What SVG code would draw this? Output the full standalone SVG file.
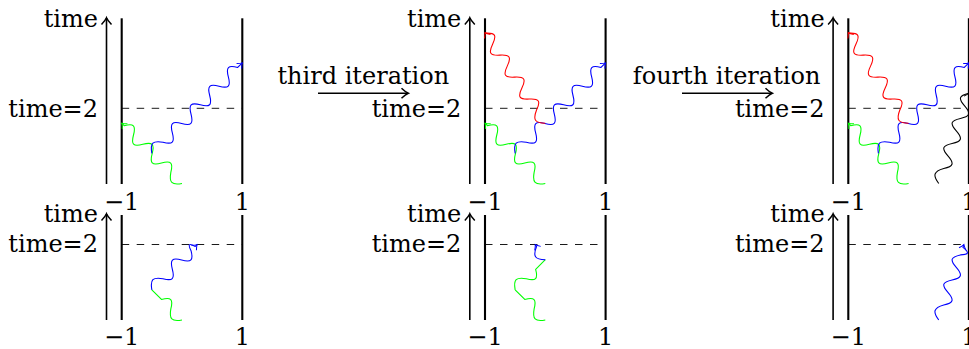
<svg xmlns="http://www.w3.org/2000/svg" width="969" height="349" viewBox="0 0 969 349">
<style>
text{font-family:"DejaVu Serif","Liberation Serif",serif;font-size:24px;fill:#000}
.e{text-anchor:end}.m{text-anchor:middle}
.wall{stroke:#000;stroke-width:2.1;fill:none}
.ax{stroke:#000;stroke-width:1.6;fill:none;marker-end:url(#ah)}
.dash{stroke:#000;stroke-width:0.9;stroke-dasharray:7.5 7.5;fill:none}
.sn{fill:none;stroke-width:1.1}
.g{stroke:#00ff00}.b{stroke:#0000ff}.r{stroke:#ff0000}.k{stroke:#000}
</style>
<defs>
<marker id="ah" markerUnits="userSpaceOnUse" orient="auto" markerWidth="14" markerHeight="14" viewBox="-10 -7 12 14" refX="0" refY="0"><path d="M-6.5,-5 Q-2.5,-1.2 0.3,0 Q-2.5,1.2 -6.5,5" fill="none" stroke="#000" stroke-width="1.5"/></marker>
<marker id="ag" markerUnits="userSpaceOnUse" orient="auto" markerWidth="10" markerHeight="10" viewBox="-6 -5 8 10" refX="0" refY="0"><path d="M-4.5,-3.6 Q-1.7,-0.9 0,0 Q-1.7,0.9 -4.5,3.6" fill="none" stroke="#00ff00" stroke-width="1"/></marker>
<marker id="ab" markerUnits="userSpaceOnUse" orient="auto" markerWidth="10" markerHeight="10" viewBox="-6 -5 8 10" refX="0" refY="0"><path d="M-4.5,-3.6 Q-1.7,-0.9 0,0 Q-1.7,0.9 -4.5,3.6" fill="none" stroke="#0000ff" stroke-width="1"/></marker>
<marker id="ar" markerUnits="userSpaceOnUse" orient="auto" markerWidth="10" markerHeight="10" viewBox="-6 -5 8 10" refX="0" refY="0"><path d="M-4.5,-3.6 Q-1.7,-0.9 0,0 Q-1.7,0.9 -4.5,3.6" fill="none" stroke="#ff0000" stroke-width="1"/></marker>
<marker id="ak" markerUnits="userSpaceOnUse" orient="auto" markerWidth="10" markerHeight="10" viewBox="-6 -5 8 10" refX="0" refY="0"><path d="M-4.5,-3.6 Q-1.7,-0.9 0,0 Q-1.7,0.9 -4.5,3.6" fill="none" stroke="#000" stroke-width="1"/></marker>
<path id="pG" d="M0 0c6 -8.6 9.8 -8.6 15.8 0c5 8.6 8.2 8.6 13.2 0c5 -8.6 8.2 -8.6 13.2 0c5 8.6 8.2 8.6 13.2 0c5 -8.6 8.2 -8.6 13.2 0c5 8.6 8.2 8.6 13.2 0L85.28 0"/>
<path id="pB" d="M0 0c6 -8.6 9.8 -8.6 15.8 0c5 8.6 8.2 8.6 13.2 0c5 -8.6 8.2 -8.6 13.2 0c5 8.6 8.2 8.6 13.2 0c5 -8.6 8.2 -8.6 13.2 0c5 8.6 8.2 8.6 13.2 0c5 -8.6 8.2 -8.6 13.2 0c5 8.6 8.2 8.6 13.2 0c5 -8.6 8.2 -8.6 13.2 0L127.92 0"/>
<path id="pR" d="M0 0c6 -8.6 9.8 -8.6 15.8 0c5 8.6 8.2 8.6 13.2 0c5 -8.6 8.2 -8.6 13.2 0c5 8.6 8.2 8.6 13.2 0c5 -8.6 8.2 -8.6 13.2 0c5 8.6 8.2 8.6 13.2 0c5 -8.6 8.2 -8.6 13.2 0c5 8.6 8.2 8.6 13.2 0L108.71 0"/>
<path id="pK" d="M0 0c6 -8.6 9.8 -8.6 15.8 0c5 8.6 8.2 8.6 13.2 0c5 -8.6 8.2 -8.6 13.2 0c5 8.6 8.2 8.6 13.2 0c5 -8.6 8.2 -8.6 13.2 0c5 8.6 8.2 8.6 13.2 0c5 -8.6 8.2 -8.6 13.2 0L95.35 0"/>
<path id="pH" d="M0 0c6 -8.6 9.8 -8.6 15.8 0c5 8.6 8.2 8.6 13.2 0L42.64 0"/>
<path id="pB1" d="M0 0c6 -8.6 9.8 -8.6 15.8 0c5 8.6 8.2 8.6 13.2 0c5 -8.6 8.2 -8.6 13.2 0c5 8.6 8.2 8.6 13.2 0c2.3 -7 3.7 -7 6 0L63.96 0"/>
<path id="pB2" d="M0 0c6 -8.6 9.8 -8.6 15.8 0L18.12 0"/>
<path id="pB3" d="M0 0c6 -8.6 9.8 -8.6 15.8 0c5 8.6 8.2 8.6 13.2 0c5 -8.6 8.2 -8.6 13.2 0c5 8.6 8.2 8.6 13.2 0c5 -8.6 8.2 -8.6 13.2 0c3 8 5 8 8 0L79.45 0"/>
</defs>

<g id="panel-top-1">
<line class="ax" x1="106.5" y1="184" x2="106.5" y2="18"/>
<line class="wall" x1="121.7" y1="18.3" x2="121.7" y2="184"/>
<line class="wall" x1="242.3" y1="18.3" x2="242.3" y2="184"/>
<line class="dash" x1="121.7" y1="108.3" x2="242.3" y2="108.3"/>
<text class="e" x="98" y="26.5">time</text>
<text class="e" x="98" y="116.5">time=2</text>
<text class="m" x="121.7" y="210">−1</text>
<text class="m" x="242.3" y="210">1</text>
</g>
<g id="panel-top-2">
<line class="ax" x1="469.8" y1="184" x2="469.8" y2="18"/>
<line class="wall" x1="485" y1="18.3" x2="485" y2="184"/>
<line class="wall" x1="605.6" y1="18.3" x2="605.6" y2="184"/>
<line class="dash" x1="485" y1="108.3" x2="605.6" y2="108.3"/>
<text class="e" x="461.3" y="26.5">time</text>
<text class="e" x="461.3" y="116.5">time=2</text>
<text class="m" x="485" y="210">−1</text>
<text class="m" x="605.6" y="210">1</text>
</g>
<g id="panel-top-3">
<line class="ax" x1="833.1" y1="184" x2="833.1" y2="18"/>
<line class="wall" x1="848.3" y1="18.3" x2="848.3" y2="184"/>
<line class="wall" x1="968.9" y1="18.3" x2="968.9" y2="184"/>
<line class="dash" x1="848.3" y1="108.3" x2="968.9" y2="108.3"/>
<text class="e" x="824.6" y="26.5">time</text>
<text class="e" x="824.6" y="116.5">time=2</text>
<text class="m" x="848.3" y="210">−1</text>
<text class="m" x="968.9" y="210">1</text>
</g>
<g id="panel-bottom-1">
<line class="ax" x1="106.5" y1="320" x2="106.5" y2="214"/>
<line class="wall" x1="121.7" y1="215" x2="121.7" y2="320"/>
<line class="wall" x1="242.3" y1="215" x2="242.3" y2="320"/>
<line class="dash" x1="121.7" y1="244.5" x2="242.3" y2="244.5"/>
<text class="e" x="98" y="221.7">time</text>
<text class="e" x="98" y="252">time=2</text>
<text class="m" x="121.7" y="344.5">−1</text>
<text class="m" x="242.3" y="344.5">1</text>
</g>
<g id="panel-bottom-2">
<line class="ax" x1="469.8" y1="320" x2="469.8" y2="214"/>
<line class="wall" x1="485" y1="215" x2="485" y2="320"/>
<line class="wall" x1="605.6" y1="215" x2="605.6" y2="320"/>
<line class="dash" x1="485" y1="244.5" x2="605.6" y2="244.5"/>
<text class="e" x="461.3" y="221.7">time</text>
<text class="e" x="461.3" y="252">time=2</text>
<text class="m" x="485" y="344.5">−1</text>
<text class="m" x="605.6" y="344.5">1</text>
</g>
<g id="panel-bottom-3">
<line class="ax" x1="833.1" y1="320" x2="833.1" y2="214"/>
<line class="wall" x1="848.3" y1="215" x2="848.3" y2="320"/>
<line class="wall" x1="968.9" y1="215" x2="968.9" y2="320"/>
<line class="dash" x1="848.3" y1="244.5" x2="968.9" y2="244.5"/>
<text class="e" x="824.6" y="221.7">time</text>
<text class="e" x="824.6" y="252">time=2</text>
<text class="m" x="848.3" y="344.5">−1</text>
<text class="m" x="968.9" y="344.5">1</text>
</g>
<g id="step-3">
<text class="m" x="363.3" y="83.5">third iteration</text>
<line class="ax" x1="318" y1="93.3" x2="408" y2="93.3"/>
</g>
<g id="step-4">
<text class="m" x="726.6" y="83.5">fourth iteration</text>
<line class="ax" x1="682" y1="93.3" x2="772" y2="93.3"/>
</g>

<g id="connectors" class="sn">
<use href="#pG" class="sn g" marker-end="url(#ag)" transform="translate(182,183.5) rotate(-135)"/>
<use href="#pB" class="sn b" marker-end="url(#ab)" transform="translate(151.85,153.35) rotate(-45)"/>
<use href="#pG" class="sn g" marker-end="url(#ag)" transform="translate(545.3,183.5) rotate(-135)"/>
<use href="#pB" class="sn b" marker-end="url(#ab)" transform="translate(515.15,153.35) rotate(-45)"/>
<use href="#pR" class="sn r" marker-end="url(#ar)" transform="translate(545.3,123.2) rotate(-123.69)"/>
<use href="#pG" class="sn g" marker-end="url(#ag)" transform="translate(908.6,183.5) rotate(-135)"/>
<use href="#pB" class="sn b" marker-end="url(#ab)" transform="translate(878.45,153.35) rotate(-45)"/>
<use href="#pR" class="sn r" marker-end="url(#ar)" transform="translate(908.6,123.2) rotate(-123.69)"/>
<use href="#pK" class="sn k" marker-end="url(#ak)" transform="translate(938.75,183.5) rotate(-71.57)"/>
<use href="#pH" class="sn g" transform="translate(182,320) rotate(-135)"/>
<use href="#pB1" class="sn b" marker-end="url(#ab)" transform="translate(151.85,289.85) rotate(-45)"/>
<use href="#pH" class="sn g" transform="translate(545.3,320) rotate(-135)"/>
<use href="#pH" class="sn g" transform="translate(515.15,289.85) rotate(-45)"/>
<use href="#pB2" class="sn b" marker-end="url(#ab)" transform="translate(545.3,259.7) rotate(-123.69)"/>
<use href="#pB3" class="sn b" marker-end="url(#ab)" transform="translate(938.75,320) rotate(-71.57)"/>
</g>
</svg>
